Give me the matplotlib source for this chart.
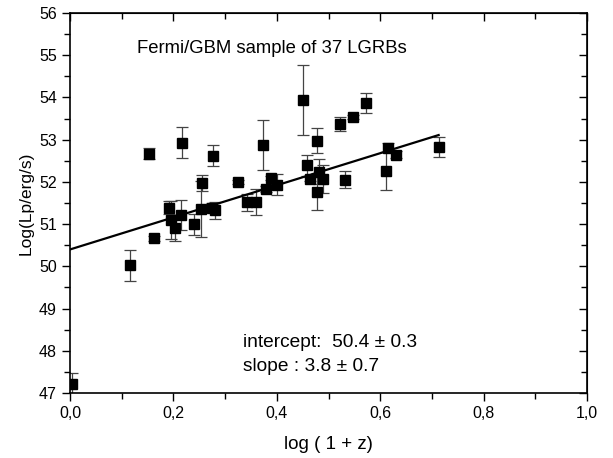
import numpy as np
import matplotlib
matplotlib.use('Agg')
import matplotlib.pyplot as plt
from matplotlib.ticker import MultipleLocator, FuncFormatter

plt.rcParams['font.family'] = ['Liberation Sans', 'DejaVu Sans']

# data
log1z = [0.004, 0.116, 0.153, 0.163, 0.191, 0.196, 0.203, 0.2155, 0.2175, 0.239,
         0.2555, 0.254, 0.2747, 0.2775, 0.281, 0.3245, 0.343, 0.3607, 0.374, 0.380,
         0.388, 0.3995, 0.451, 0.4575, 0.465, 0.478, 0.4775, 0.482, 0.490, 0.522,
         0.532, 0.5465, 0.572, 0.612, 0.616, 0.630, 0.713]
logLp = [47.21, 50.02, 52.67, 50.66, 51.39, 51.09, 50.90, 51.21, 52.93, 51.00,
         51.98, 51.36, 51.39, 52.62, 51.33, 52.00, 51.52, 51.52, 52.88, 51.83,
         52.10, 51.93, 53.94, 52.39, 52.07, 52.98, 51.77, 52.24, 52.06, 53.37,
         52.05, 53.53, 53.87, 52.26, 52.81, 52.64, 52.82]
err = [0.26, 0.36, 0.13, 0.06, 0.16, 0.45, 0.30, 0.35, 0.37, 0.25,
       0.19, 0.66, 0.10, 0.25, 0.20, 0.05, 0.20, 0.30, 0.59, 0.08,
       0.05, 0.25, 0.82, 0.24, 0.05, 0.29, 0.43, 0.30, 0.33, 0.16,
       0.20, 0.05, 0.24, 0.45, 0.10, 0.08, 0.24]

intercept = 50.4
slope = 3.8

fig = plt.figure(figsize=(6.13, 4.58), dpi=100)
ax = fig.add_axes([0.1142, 0.1419, 0.8434, 0.8297])

ax.errorbar(log1z, logLp, yerr=err, fmt='none', ecolor='#444444', elinewidth=0.9,
            capsize=4, capthick=0.9, zorder=2)
ax.plot(log1z, logLp, 's', color='black', markersize=6.5, zorder=3)

xf = np.array([0.0, max(log1z)])
ax.plot(xf, intercept + slope * xf, color='black', lw=1.6, zorder=4)

ax.set_xlim(0, 1.0)
ax.set_ylim(47, 56)
ax.xaxis.set_major_locator(MultipleLocator(0.2))
ax.xaxis.set_minor_locator(MultipleLocator(0.1))
ax.yaxis.set_major_locator(MultipleLocator(1))
ax.yaxis.set_minor_locator(MultipleLocator(0.5))
ax.xaxis.set_major_formatter(FuncFormatter(lambda v, p: ('%.1f' % v).replace('.', ',')))

ax.tick_params(which='both', direction='out', top=False, right=False, labelsize=11.5, width=1)
ax.tick_params(which='major', length=6)
ax.tick_params(which='minor', length=4)

# inward ticks on top and right
ax2 = ax.secondary_xaxis('top')
ax2.xaxis.set_major_locator(MultipleLocator(0.2))
ax2.xaxis.set_minor_locator(MultipleLocator(0.1))
ax2.tick_params(which='both', direction='in', labeltop=False, width=1)
ax2.tick_params(which='major', length=6)
ax2.tick_params(which='minor', length=4)
ax3 = ax.secondary_yaxis('right')
ax3.yaxis.set_major_locator(MultipleLocator(1))
ax3.yaxis.set_minor_locator(MultipleLocator(0.5))
ax3.tick_params(which='both', direction='in', labelright=False, width=1)
ax3.tick_params(which='major', length=6)
ax3.tick_params(which='minor', length=4)

for s in ax.spines.values():
    s.set_linewidth(1.2)

ax.set_xlabel('log ( 1 + z)', fontsize=13.5, labelpad=11)
ax.set_ylabel('Log(Lp/erg/s)', fontsize=12.5, labelpad=4)

ax.text(0.13, 55.17, 'Fermi/GBM sample of 37 LGRBs', fontsize=13.3, va='center')
ax.text(0.335, 48.2, 'intercept:  50.4 ± 0.3', fontsize=13.8, va='center')
ax.text(0.335, 47.62, 'slope : 3.8 ± 0.7', fontsize=13.8, va='center')

fig.savefig('out.png', dpi=100)
